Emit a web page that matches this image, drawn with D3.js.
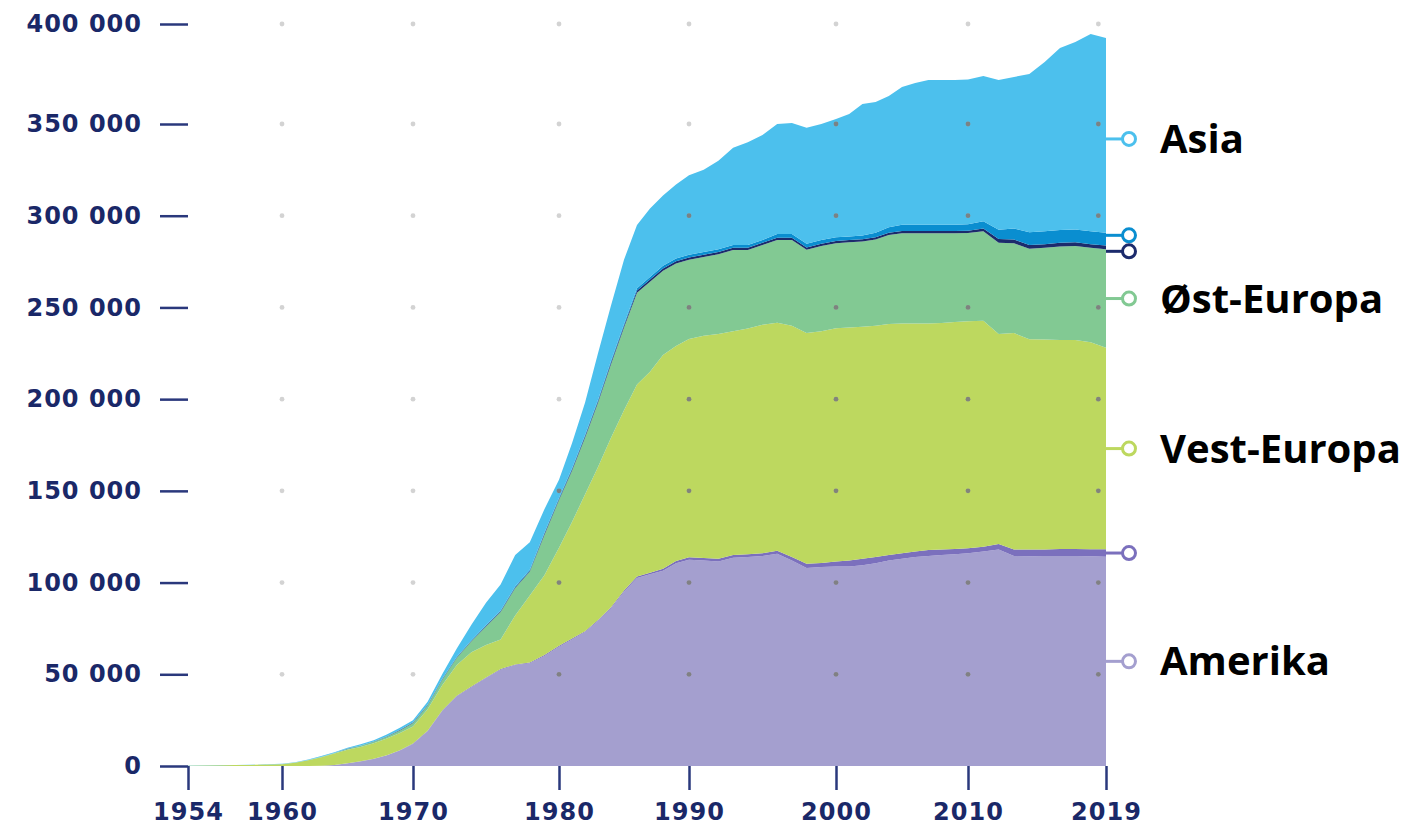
<!DOCTYPE html>
<html>
<head>
<meta charset="utf-8">
<title>Utvikling per region 1954-2019</title>
<script src="https://d3js.org/d3.v7.min.js"></script>
<style>
  body { margin: 0; background: #fff; }
  .axis text { font-family: "DejaVu Sans", sans-serif; font-weight: bold; font-size: 24px; fill: #1a2868; letter-spacing: 1px; }
  .axis line { stroke: #2a387c; stroke-width: 2.5; }
  .region-label { font-family: "Open Sans", sans-serif; font-weight: bold; font-size: 40px; fill: #000; }
</style>
</head>
<body>
<svg id="chart" width="1407" height="826"></svg>
<script>
// years 1954 - 2019, values in thousands
var years = d3.range(1954, 2020);

var amerika = [
  0, 0, 0, 0, 0, 0, 0, 0, 0, 0.2,
  0.6, 1.5, 2.5, 3.8, 5.8, 8.5,
  12, 19, 30, 38, 43, 48, 52.5, 55, 56, 60,
  65, 69, 73, 79, 86, 95, 102.5, 104.5, 106.5, 110.5,
  112.5, 112, 111.5, 113.5, 114, 114.5, 115.7, 112, 108, 108.5,
  108.7, 108.7, 109.5, 110.5, 112, 113, 114, 114.5, 115, 115.5,
  116, 117, 118, 114.5, 114.3, 114.5, 114.5, 114.5, 114.3, 114.1
];
// thin darker band on top of Amerika (no label)
var amerikaBand = [
  0, 0, 0, 0, 0, 0, 0, 0, 0, 0,
  0, 0, 0.1, 0.1, 0.1, 0.1,
  0.2, 0.2, 0.2, 0.3, 0.3, 0.3, 0.4, 0.4, 0.4, 0.5,
  0.5, 0.5, 0.5, 0.6, 0.6, 0.7, 0.8, 0.9, 1.0, 1.2,
  1.3, 1.4, 1.5, 1.5, 1.5, 1.5, 1.7, 2.0, 2.2, 2.2,
  2.8, 3.3, 3.5, 3.5, 3.0, 3.0, 3.0, 3.3, 3.0, 2.8,
  2.7, 2.5, 3.0, 3.5, 3.7, 3.5, 3.8, 3.8, 3.9, 4.0
];
var vestEuropa = [
  0.2, 0.3, 0.4, 0.5, 0.6, 0.8, 1.0, 1.8, 3.1, 4.6,
  6.2, 7.3, 7.8, 8.5, 9.1, 9.4,
  9.3, 11.8, 13.8, 16.7, 18.7, 17.7, 16.1, 26.6, 36.6, 43.5,
  53.5, 63.5, 74.5, 83.4, 92.4, 98.3, 104.7, 109.6, 116.5, 117.3,
  119.0, 121.1, 122.5, 122.0, 123.0, 124.5, 124.3, 126.0, 125.8, 126.3,
  127.1, 127.0, 126.5, 126.0, 126.0, 125.2, 124.3, 123.5, 123.5, 123.7,
  123.8, 123.3, 114.5, 118.0, 114.6, 114.5, 114.0, 114.0, 112.8, 109.9
];
var ostEuropa = [
  0, 0, 0, 0, 0, 0, 0.1, 0.1, 0.2, 0.3,
  0.3, 0.5, 0.6, 0.8, 1.0, 1.4,
  2.0, 2.0, 3.0, 4.0, 6.0, 10.0, 15.0, 15.0, 13.0, 22.0,
  26.0, 28.0, 31.0, 35.0, 40.0, 45.0, 50.0, 49.0, 46.0, 45.0,
  43.2, 43.0, 43.5, 44.3, 42.8, 43.5, 45.1, 46.8, 45.5, 46.5,
  46.4, 46.5, 46.5, 47.0, 48.5, 49.2, 49.1, 49.1, 48.9, 48.4,
  48.1, 48.7, 49.8, 49.0, 49.4, 50.0, 50.9, 51.2, 51.5, 53.7
];
// two thin unlabeled bands between Øst-Europa and Asia
var navyBand = [
  0, 0, 0, 0, 0, 0, 0, 0, 0, 0,
  0, 0.1, 0.1, 0.1, 0.1, 0.2,
  0.2, 0.2, 0.3, 0.3, 0.3, 0.4, 0.4, 0.5, 0.5, 0.6,
  0.6, 0.7, 0.8, 0.9, 1.0, 1.0, 1.2, 1.2, 1.2, 1.2,
  1.2, 1.2, 1.2, 1.2, 1.2, 1.2, 1.2, 1.2, 1.2, 1.2,
  1.2, 1.2, 1.2, 1.2, 1.2, 1.2, 1.2, 1.2, 1.2, 1.2,
  1.2, 1.5, 2, 2, 2, 2, 2, 2, 2, 2
];
var blueBand = [
  0, 0, 0, 0, 0, 0, 0, 0, 0, 0,
  0, 0.1, 0.1, 0.1, 0.1, 0.1,
  0.2, 0.2, 0.2, 0.3, 0.3, 0.4, 0.4, 0.5, 0.5, 0.5,
  0.6, 0.6, 0.7, 0.8, 0.9, 1.0, 1.2, 1.4, 1.5, 1.5,
  1.5, 1.5, 1.5, 1.5, 1.5, 1.5, 2, 2, 2, 2,
  2, 2, 2, 2.5, 3, 3.5, 3.5, 3.5, 3.5, 3.5,
  3.5, 4, 5, 6, 7, 7, 7, 7, 7, 7
];
var asia = [
  0.1, 0.1, 0.1, 0.1, 0.1, 0.1, 0.1, 0.1, 0.2, 0.3,
  0.4, 0.4, 0.6, 0.6, 1.0, 1.1,
  1.1, 1.6, 2.5, 4.4, 8.4, 12.2, 14.2, 17.0, 15.0, 12.9,
  9.8, 13.7, 17.5, 25.3, 30.1, 35.0, 34.6, 37.4, 38.3, 40.3,
  43.3, 44.8, 48.3, 53.0, 56.0, 57.3, 60.0, 60.5, 63.3, 63.3,
  64.3, 66.3, 70.8, 70.3, 70.3, 73.4, 75.4, 76.9, 76.9, 76.9,
  77.0, 77.0, 79.7, 80.5, 84.0, 89.5, 95.8, 98.5, 103.5, 102.3
];

var xTicks = [1954, 1960, 1970, 1980, 1990, 2000, 2010, 2019];
var yTicks = [0, 50, 100, 150, 200, 250, 300, 350, 400];

var layers = [
  { key: "amerika",    data: amerika,     color: "#a49fcf", label: "Amerika" },
  { key: "amerikaBand",data: amerikaBand, color: "#7b70bd", label: null },
  { key: "vestEuropa", data: vestEuropa,  color: "#bdd85f", label: "Vest-Europa" },
  { key: "ostEuropa",  data: ostEuropa,   color: "#82c993", label: "Øst-Europa" },
  { key: "navyBand",   data: navyBand,    color: "#1c2b6c", label: null },
  { key: "blueBand",   data: blueBand,    color: "#0a8ed0", label: null },
  { key: "asia",       data: asia,        color: "#4cc0ed", label: "Asia" }
];

var table = years.map(function(yr, i) {
  var row = { year: yr };
  layers.forEach(function(l) { row[l.key] = l.data[i]; });
  return row;
});

var svg = d3.select("#chart");

// the original axis is not evenly spaced, so piecewise scales
var x = d3.scaleLinear().domain(xTicks).range([188, 282, 413, 559, 689, 836, 968, 1106]);
var y = d3.scaleLinear().domain([0, 350, 400]).range([766, 124, 24]);

var stack = d3.stack().keys(layers.map(function(l) { return l.key; }));
var series = stack(table);

var area = d3.area()
  .x(function(d) { return x(d.data.year); })
  .y0(function(d) { return y(d[0]); })
  .y1(function(d) { return y(d[1]); });

svg.append("g").selectAll("path")
  .data(series)
  .enter().append("path")
    .attr("d", area)
    .attr("fill", function(d, i) { return layers[i].color; });

// outline of the whole stack, so dots inside it can be drawn darker
var total = d3.area()
  .x(function(d) { return x(d.data.year); })
  .y0(y(0))
  .y1(function(d) { return y(d[1]); });
svg.append("clipPath").attr("id", "inside")
  .append("path").attr("d", total(series[series.length - 1]));

// grid dots
var dotX = [1960, 1970, 1980, 1990, 2000, 2010, 2018.5];
var dots = [];
dotX.forEach(function(dx) {
  yTicks.slice(1).forEach(function(dy) { dots.push([dx, dy]); });
});
function drawDots(g, fill, op) {
  g.selectAll("circle")
    .data(dots)
    .enter().append("circle")
      .attr("cx", function(d) { return x(d[0]); })
      .attr("cy", function(d) { return y(d[1]); })
      .attr("r", 2.4)
      .attr("fill", fill)
      .attr("opacity", op);
}
drawDots(svg.append("g"), "#c8c8c8", 0.8);
drawDots(svg.append("g").attr("clip-path", "url(#inside)"), "#555", 0.6);

// axes
var yAxis = d3.axisLeft(y)
  .tickValues(yTicks)
  .tickSize(28)
  .tickPadding(18)
  .tickFormat(function(d) { return d === 0 ? "0" : d + " 000"; });

svg.append("g")
  .attr("class", "axis")
  .attr("transform", "translate(188,0)")
  .call(yAxis)
  .call(function(g) { g.select(".domain").remove(); });

var xAxis = d3.axisBottom(x)
  .tickValues(xTicks)
  .tickSize(24)
  .tickPadding(13)
  .tickFormat(d3.format("d"));

svg.append("g")
  .attr("class", "axis")
  .attr("transform", "translate(0,766)")
  .call(xAxis)
  .call(function(g) { g.select(".domain").remove(); });

// end markers at the right edge
var last = years.length - 1;
var markers = series.map(function(s, i) {
  var d = s[last];
  return { y: y((d[0] + d[1]) / 2), color: layers[i].color, label: layers[i].label };
});
markers.sort(function(a, b) { return a.y - b.y; });
for (var k = 0; k < 20; k++) {
  for (var m = 1; m < markers.length; m++) {
    var gap = markers[m].y - markers[m - 1].y;
    if (gap < 16) {
      markers[m].y += (16 - gap) / 2;
      markers[m - 1].y -= (16 - gap) / 2;
    }
  }
}

var xEnd = x(2019);
var mg = svg.append("g");
mg.selectAll("line")
  .data(markers)
  .enter().append("line")
    .attr("x1", xEnd)
    .attr("x2", xEnd + 16)
    .attr("y1", function(d) { return d.y; })
    .attr("y2", function(d) { return d.y; })
    .attr("stroke", function(d) { return d.color; })
    .attr("stroke-width", 3);
mg.selectAll("circle")
  .data(markers)
  .enter().append("circle")
    .attr("cx", xEnd + 23)
    .attr("cy", function(d) { return d.y; })
    .attr("r", 6.5)
    .attr("fill", "#fff")
    .attr("stroke", function(d) { return d.color; })
    .attr("stroke-width", 3);

mg.selectAll("text")
  .data(markers.filter(function(d) { return d.label; }))
  .enter().append("text")
    .attr("class", "region-label")
    .attr("x", 1160)
    .attr("y", function(d) { return d.y; })
    .attr("dy", "0.35em")
    .text(function(d) { return d.label; });
</script>
</body>
</html>
